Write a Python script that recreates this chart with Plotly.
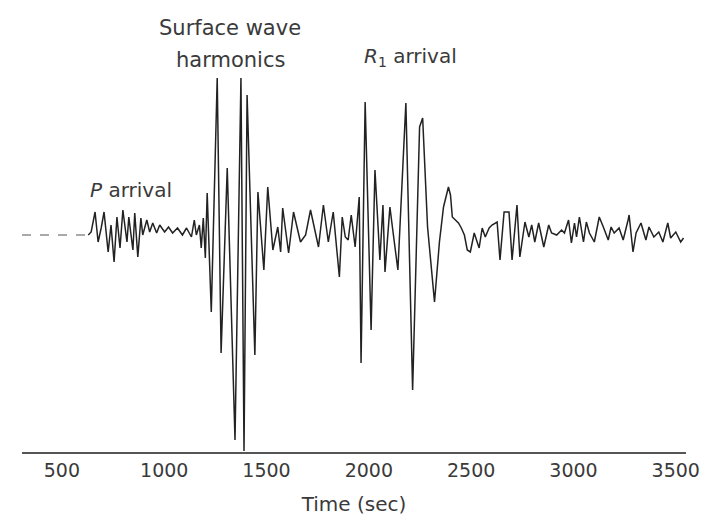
import plotly.graph_objects as go

# Pre-event quiet segment (seconds, amplitude)
quiet_time = [305, 629]
quiet_amp = [0, 0]

# Seismogram trace (time in seconds, relative amplitude)
time_s = [629, 643, 662, 677, 692, 706, 726, 740, 755, 769, 784, 798, 818, 827, 847, 856, 871, 886, 895, 915,
          929, 944, 963, 978, 1002, 1021, 1041, 1065, 1089, 1109, 1133, 1147, 1157, 1172, 1181, 1191, 1201, 1210, 1230, 1259,
          1278, 1308, 1346, 1375, 1390, 1405, 1443, 1458, 1487, 1506, 1531, 1555, 1569, 1579, 1608, 1632, 1666, 1691, 1715, 1739,
          1754, 1778, 1802, 1826, 1856, 1870, 1885, 1899, 1914, 1933, 1953, 1962, 1982, 2011, 2030, 2054, 2069, 2079, 2103, 2117,
          2142, 2181, 2214, 2248, 2263, 2287, 2321, 2345, 2365, 2389, 2399, 2408, 2423, 2438, 2452, 2467, 2481, 2496, 2515, 2539,
          2554, 2569, 2588, 2602, 2627, 2641, 2661, 2685, 2700, 2724, 2738, 2763, 2782, 2796, 2811, 2830, 2855, 2879, 2893, 2918,
          2942, 2956, 2976, 2990, 3005, 3015, 3029, 3049, 3063, 3078, 3102, 3126, 3146, 3170, 3184, 3199, 3223, 3243, 3267, 3272,
          3291, 3306, 3330, 3354, 3369, 3393, 3417, 3437, 3461, 3475, 3500, 3524, 3538]
amplitude = [0, 3, 23, -7, 7, 23, -17, 10, -27, 18, -13, 25, -7, 18, -15, 22, -22, 17, 0, 15,
             3, 12, 2, 10, 3, 8, 2, 7, 0, 7, -2, 15, 0, 10, -13, 17, -23, 42, -77, 157,
             -118, 67, -205, 157, -216, 140, -120, 43, -35, 48, -15, 8, -17, 27, -18, 23, -7, 0, 25, 0,
             -12, 30, -7, 23, -42, 18, -2, -5, 20, -12, 38, -128, 133, -95, 65, -25, 30, -37, 28, 5,
             -35, 132, -155, 108, 117, 8, -67, -7, 28, 48, 40, 18, 15, 12, 7, 0, -15, -17, 2, -13,
             7, -2, 7, 10, 13, -25, 23, 23, -25, 30, -22, 13, -2, 10, -7, 12, -12, 10, 2, 0,
             5, 2, 15, -8, 12, -2, 18, -7, 13, 2, -7, 18, 8, -5, 8, 2, 7, -5, 15, 20,
             -17, 2, 12, -5, 8, -2, 3, -7, 12, -3, 3, -7, -3]

tick_vals = [500, 1000, 1500, 2000, 2500, 3000, 3500]
tick_text = ["500", "1000", "1500", "2000", "2500", "3000", "3500"]

FONT = "DejaVu Sans"
TXT = "#3a3a3a"

fig = go.Figure()
fig.add_trace(go.Scatter(x=quiet_time, y=quiet_amp, mode="lines",
                         line=dict(color="#555555", width=1.2, dash="dash"),
                         hoverinfo="skip", showlegend=False))
fig.add_trace(go.Scatter(x=time_s, y=amplitude, mode="lines",
                         line=dict(color="#222222", width=1.5),
                         showlegend=False))

fig.update_layout(
    width=712, height=527,
    margin=dict(l=22, r=22, t=60, b=75),
    paper_bgcolor="white", plot_bgcolor="white",
    font=dict(family=FONT, color=TXT, size=19),
    xaxis=dict(range=[305, 3550], tickvals=tick_vals, ticktext=tick_text,
               showgrid=False, zeroline=False, showline=True,
               linecolor="#555555", linewidth=1.5, ticks="",
               tickfont=dict(size=19, color=TXT),
               title=dict(text="Time (sec)", font=dict(size=20, color=TXT), standoff=17)),
    yaxis=dict(range=[-217, 175], visible=False),
    annotations=[
        dict(x=1322, y=1.082, xref="x", yref="paper", text="Surface wave",
             showarrow=False, font=dict(size=21, color=TXT), xanchor="center", yanchor="middle"),
        dict(x=1322, y=1.0, xref="x", yref="paper", text="harmonics",
             showarrow=False, font=dict(size=21, color=TXT), xanchor="center", yanchor="middle"),
        dict(x=837, y=45, xref="x", yref="y", text="<i>P</i> arrival",
             showarrow=False, font=dict(size=20, color=TXT), xanchor="center", yanchor="middle"),
        dict(x=2202, y=1.0077, xref="x", yref="paper", text="<i>R</i><sub>1</sub> arrival",
             showarrow=False, font=dict(size=20, color=TXT), xanchor="center", yanchor="middle"),
    ],
)

fig.write_html("out.html")
